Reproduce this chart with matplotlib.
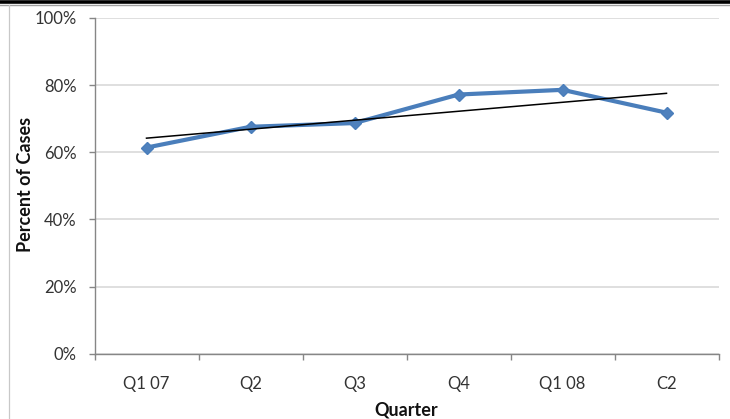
import numpy as np
import matplotlib
matplotlib.use("Agg")
import matplotlib.pyplot as plt
from matplotlib.lines import Line2D
from matplotlib.ticker import FuncFormatter, MultipleLocator, FixedLocator

# Datos
quarters = ["Q1 07", "Q2", "Q3", "Q4", "Q1 08", "C2"]
percent_cases = [61.4, 67.6, 68.7, 77.2, 78.6, 71.8]

plt.rcParams['font.family'] = ['Lato', 'DejaVu Sans']

W, H = 730, 419
fig = plt.figure(figsize=(W / 100, H / 100), dpi=100)
ax = fig.add_axes([94.5 / W, 1 - 353.7 / H, (718.5 - 94.5) / W, (353.7 - 18) / H])

x = np.arange(len(quarters))

# serie principal
ax.plot(x, percent_cases, color='#4A7EBB', lw=3, marker='D', ms=6.5,
        mfc='#4F81BD', mec='#4A7EBB', mew=1, zorder=3, solid_capstyle='round')

# linea de tendencia lineal
coef = np.polyfit(x, percent_cases, 1)
ax.plot(x, np.polyval(coef, x), color='black', lw=1.1, zorder=4)

ax.set_xlim(-0.5, len(quarters) - 0.5)
ax.set_ylim(0, 100)

ax.yaxis.set_major_locator(MultipleLocator(20))
ax.yaxis.set_major_formatter(FuncFormatter(lambda v, p: f"{v:.0f}%"))
ax.grid(axis='y', color='#D9D9D9', lw=1.2)
ax.set_axisbelow(True)

ax.set_xticks(x)
ax.set_xticklabels(quarters)
ax.xaxis.set_minor_locator(FixedLocator(np.arange(-0.5, len(quarters), 1.0)))
ax.tick_params(axis='x', which='major', length=0, pad=16, labelsize=12, labelcolor='#333333')
ax.tick_params(axis='x', which='minor', length=4, width=1, color='#868686', direction='out')
ax.tick_params(axis='y', length=4, width=1, color='#868686', pad=9, labelsize=12,
               labelcolor='#333333')

for s in ['top', 'right']:
    ax.spines[s].set_visible(False)
for s in ['left', 'bottom']:
    ax.spines[s].set_color('#868686')
    ax.spines[s].set_linewidth(1)

fig.text(25.5 / W, 1 - 184 / H, "Percent of Cases", rotation=90, ha='center', va='center',
         fontsize=13, fontweight='bold', color='#111111')
fig.text(406.5 / W, 1 - 410 / H, "Quarter", ha='center', va='center',
         fontsize=13, fontweight='bold', color='#111111')

# bordes del marco
fig.add_artist(Line2D([0, 1], [1 - 1.75 / H, 1 - 1.75 / H], color='black', lw=2.6,
                      transform=fig.transFigure))
fig.add_artist(Line2D([0, 1], [1 - 5 / H, 1 - 5 / H], color='#A0A0A0', lw=1.0,
                      transform=fig.transFigure))
fig.add_artist(Line2D([9.3 / W, 9.3 / W], [0, 1 - 5 / H], color='#C8C8C8', lw=0.9,
                      transform=fig.transFigure))

fig.savefig("out.png", dpi=100)
plt.close(fig)
